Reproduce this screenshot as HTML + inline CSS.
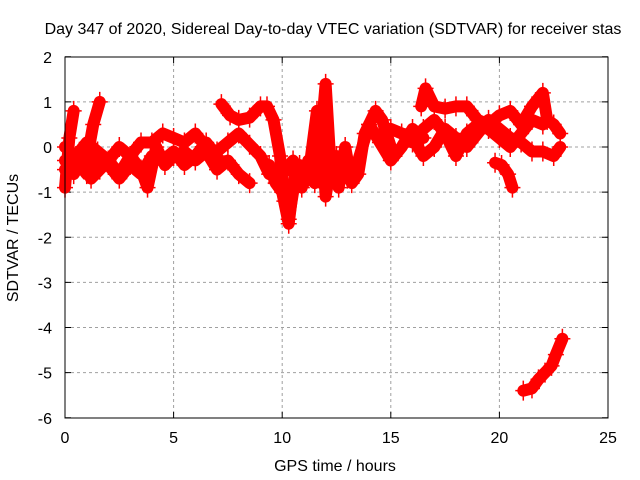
<!DOCTYPE html>
<html><head><meta charset="utf-8"><style>
body{margin:0;background:#fff}
svg{display:block;font-family:"Liberation Sans",sans-serif}
</style></head><body>
<svg id="chart" width="640" height="480">
<text x="333" y="34" font-size="16" text-anchor="middle">Day 347 of 2020, Sidereal Day-to-day VTEC variation (SDTVAR) for receiver stas</text>
<text x="335" y="471" font-size="16" text-anchor="middle">GPS time / hours</text>
<text x="18" y="238" font-size="16" text-anchor="middle" transform="rotate(-90 18 238)">SDTVAR / TECUs</text>
<g id="grid"></g>
<g id="ticks"></g>
<g id="series"></g>
<rect x="65" y="57" width="543" height="361" fill="none" stroke="#000" stroke-width="1"/>
</svg>
<script>
const xTicks=[0,5,10,15,20,25];
const yTicks=[2,1,0,-1,-2,-3,-4,-5,-6];
const t1H=[0,0.4,0.8,1.2,1.6,2,2.5,3,3.5,3.8,4.2,4.6,5,5.5,6,6.5,7,7.5,8,8.5];
const t1V=[-0.3,-0.6,-0.3,-0.7,-0.5,-0.3,-0.6,-0.2,-0.5,-0.9,0.0,-0.4,-0.2,-0.1,-0.3,-0.1,-0.5,-0.3,-0.6,-0.8];
const t2H=[0,0.5,1,1.5,2,2.5,3,3.5,4,4.5,5,5.5,6,6.5,7,7.5,8,8.5,9,9.4];
const t2V=[0,-0.2,0.1,-0.1,-0.3,0,-0.2,0.1,0.1,0.3,0.2,0.1,0.3,0.0,-0.1,0.1,0.3,0.05,-0.2,-0.6];
const t2bH=[0,0.5,1,1.5,2,2.5,3,3.5,4,4.5,5,5.5,6,6.5,7];
const t2bV=[-0.5,-0.3,-0.6,-0.2,-0.4,-0.7,-0.4,-0.6,-0.2,-0.3,-0.1,-0.4,-0.2,0.1,-0.2];
const t3H=[0,0.2,0.4];
const t3V=[-0.9,0.2,0.8];
const t4H=[1,1.3,1.6];
const t4V=[-0.3,0.5,1.0];
const t5H=[7.2,7.6,8,8.5,9,9.3,9.6,9.9,10.1,10.3,10.5,10.8,11,11.3,11.6,11.8,12,12.2,12.5];
const t5V=[0.95,0.7,0.6,0.65,0.9,0.9,0.6,-0.2,-1.2,-1.6,-1.0,-0.4,-0.7,-0.3,0.8,0.3,1.4,-0.2,-0.8];
const t6H=[9.4,9.7,10,10.3,10.6,10.9,11.2,11.5,11.8,12,12.3,12.6,12.9,13.2,13.5,13.8,14,14.3,14.6,15];
const t6V=[-0.4,-0.8,-1.0,-1.7,-0.5,-0.9,-0.3,-0.8,0.5,-1.1,-0.2,-0.9,0.0,-0.8,-0.6,0.3,0.5,0.8,0.6,0.0];
const t7H=[10,10.5,11,11.5,12,12.5,13,13.5,14,14.5,15,15.5,16,16.5];
const t7V=[-0.6,-0.3,-0.8,-0.5,-0.9,-0.2,-0.7,-0.3,0.5,0.1,-0.3,0.0,0.4,0.2];
const t8H=[15,15.5,16,16.5,17,17.5,18,18.5,19,19.5,20,20.5,21,21.5,22,22.5,22.8];
const t8V=[0.4,0.3,0.2,-0.2,0.0,0.4,0.2,0.0,0.3,0.6,0.4,0.2,0.1,-0.1,-0.1,-0.2,0.0];
const t9H=[16.4,16.6,17,17.5,18,18.5,19,19.5,20,20.5,21,21.5,22,22.2,22.5,22.8];
const t9V=[0.9,1.3,0.9,0.85,0.9,0.9,0.6,0.5,0.7,0.8,0.5,0.9,1.2,0.6,0.5,0.3];
const t10H=[16,16.5,17,17.5,18,18.5,19,19.5,20,20.5,21,21.5,22];
const t10V=[0.1,0.4,0.6,0.3,-0.2,0.3,0.5,0.4,0.2,0.0,0.3,0.6,0.5];
const t11H=[19.8,20.1,20.4,20.6];
const t11V=[-0.35,-0.4,-0.6,-0.9];
const t12H=[21.1,21.5,21.8,22.1,22.4,22.6,22.9];
const t12V=[-5.4,-5.35,-5.15,-5.0,-4.85,-4.6,-4.25];
const tracks=[[t1H,t1V],[t2H,t2V],[t2bH,t2bV],[t3H,t3V],[t4H,t4V],[t5H,t5V],[t6H,t6V],[t7H,t7V],[t8H,t8V],[t9H,t9V],[t10H,t10V],[t11H,t11V],[t12H,t12V]];
const NS='http://www.w3.org/2000/svg';
function xs(h){return 65+h*543/25;}
function ys(v){return 147-v*45.125;}
const grid=document.getElementById('grid'),ticks=document.getElementById('ticks'),ser=document.getElementById('series');
function mk(t,p,a){const e=document.createElementNS(NS,t);for(const k in a)e.setAttribute(k,a[k]);p.appendChild(e);return e;}
xTicks.forEach(v=>{const x=xs(v);
 if(v>0&&v<25){const l=mk('line',grid,{x1:x,x2:x,y1:57,y2:418,stroke:'#a0a0a0','stroke-dasharray':'3,3'});
 
 }
 const t=mk('text',ticks,{x:x,y:443,'font-size':16,'text-anchor':'middle'});t.textContent=v;
 
 
 mk('line',grid,{x1:x,x2:x,y1:418,y2:412,stroke:'#000'});mk('line',grid,{x1:x,x2:x,y1:57,y2:63,stroke:'#000'});});
yTicks.forEach(v=>{const y=ys(v);
 if(v<2&&v>-6){const l=mk('line',grid,{x1:65,x2:608,y1:y,y2:y,stroke:'#a0a0a0','stroke-dasharray':'3,3'});
 
 }
 const t=mk('text',ticks,{x:52,y:y+6,'font-size':16,'text-anchor':'end'});t.textContent=v;
 
 
 mk('line',grid,{x1:65,x2:71,y1:y,y2:y,stroke:'#000'});mk('line',grid,{x1:608,x2:602,y1:y,y2:y,stroke:'#000'});});
tracks.forEach(([H,V],i)=>{
 const pts=H.map((h,j)=>xs(h)+','+ys(V[j])).join(' ');
 const pl=mk('polyline',ser,{points:pts,fill:'none',stroke:'#f00','stroke-width':12,'stroke-linejoin':'round','stroke-linecap':'round'});
 
 
 H.forEach((h,j)=>{const x=xs(h),y=ys(V[j]);
  const m=mk('path',ser,{d:`M${x-8},${y}H${x+8}M${x},${y-10}V${y+10}`,stroke:'#f00','stroke-width':1.5});
  
  });
});
</script>
</body></html>
